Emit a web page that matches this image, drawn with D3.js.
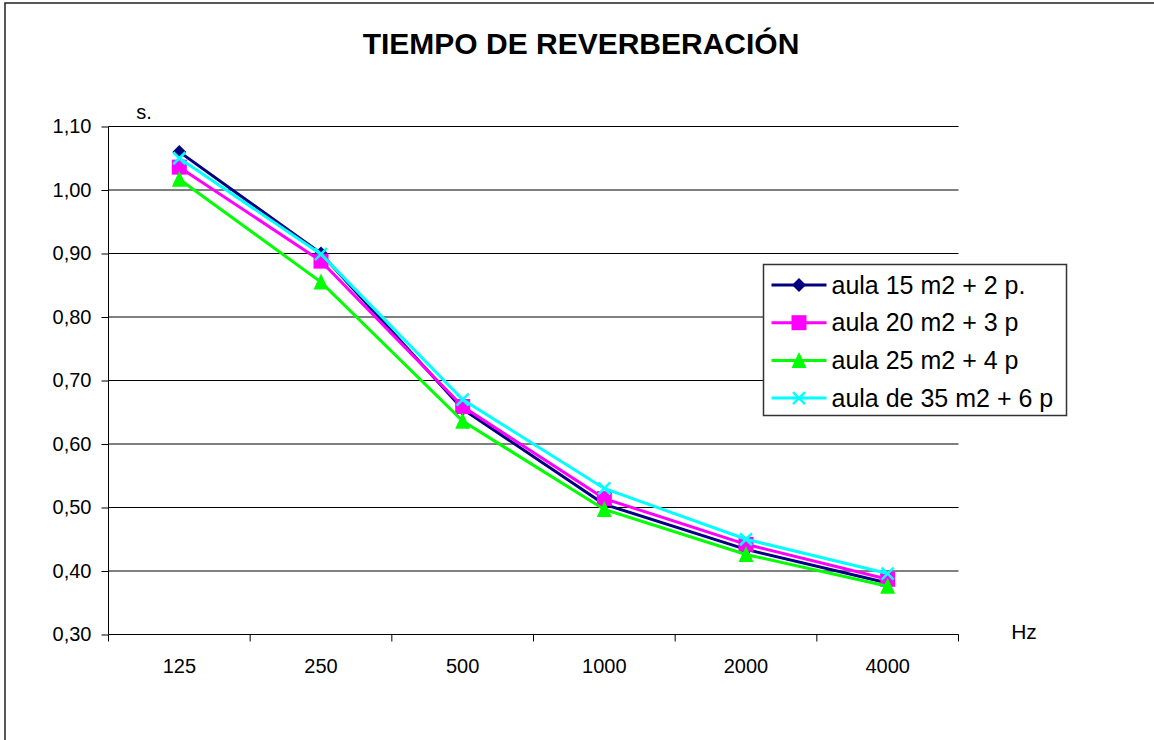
<!DOCTYPE html>
<html>
<head>
<meta charset="utf-8">
<script src="https://cdn.jsdelivr.net/npm/d3@7"></script>
<style>
  body { margin: 0; background: #fff; }
  text { font-family: "Liberation Sans", Arial, sans-serif; fill: #000; }
</style>
</head>
<body>
<div id="chart"></div>
<script>
var svgWidth = 1154;
var svgHeight = 740;

// chart data
var frequencies = ["125", "250", "500", "1000", "2000", "4000"];
var seriesNames = ["aula 15 m2 + 2 p.", "aula 20 m2 + 3 p", "aula 25 m2 + 4 p", "aula de 35 m2 + 6 p"];
var aula15 = [1.06, 0.90, 0.655, 0.505, 0.434, 0.381];
var aula20 = [1.036, 0.888, 0.659, 0.514, 0.442, 0.387];
var aula25 = [1.017, 0.855, 0.636, 0.497, 0.426, 0.376];
var aula35 = [1.05, 0.899, 0.670, 0.530, 0.450, 0.396];
var yTicks = [0.30, 0.40, 0.50, 0.60, 0.70, 0.80, 0.90, 1.00, 1.10];

var colors = ["#000080", "#ff00ff", "#00ff00", "#00ffff"];
var shapes = ["diamond", "square", "triangle", "cross"];
var allSeries = [aula15, aula20, aula25, aula35];

var margin = { top: 126.5, left: 108.5 };
var width = 850;
var height = 508;

var svg = d3.select("#chart")
  .append("svg")
  .attr("width", svgWidth)
  .attr("height", svgHeight);

// outer frame (runs off the picture at right and bottom)
svg.append("rect")
  .attr("x", 5)
  .attr("y", 3)
  .attr("width", 1160)
  .attr("height", 760)
  .attr("fill", "#fff")
  .attr("stroke", "#222")
  .attr("stroke-width", 1.5);

svg.append("text")
  .attr("x", 581)
  .attr("y", 54)
  .attr("text-anchor", "middle")
  .style("font-size", "30px")
  .style("font-weight", "bold")
  .text("TIEMPO DE REVERBERACIÓN");

var chartGroup = svg.append("g")
  .attr("transform", `translate(${margin.left}, ${margin.top})`);

var xScale = d3.scaleBand()
  .domain(frequencies)
  .range([0, width])
  .padding(0);

var yScale = d3.scaleLinear()
  .domain([0.3, 1.1])
  .range([height, 0]);

// y axis ticks and labels
var leftAxis = d3.axisLeft(yScale)
  .tickValues(yTicks)
  .tickSize(7)
  .tickFormat(d => d3.format(".2f")(d).replace(".", ","));

var yAxis = chartGroup.append("g").call(leftAxis);
yAxis.select(".domain").remove();
yAxis.selectAll(".tick line").attr("stroke", "#000");
yAxis.selectAll(".tick text")
  .attr("x", -17)
  .style("font-size", "20px")
  .attr("font-family", null);

// gridlines
chartGroup.append("g")
  .selectAll("line")
  .data(yTicks)
  .enter()
  .append("line")
  .attr("x1", 0)
  .attr("x2", width)
  .attr("y1", d => yScale(d))
  .attr("y2", d => yScale(d))
  .attr("stroke", "#000")
  .attr("stroke-width", 1);

// y axis line
chartGroup.append("line")
  .attr("x1", 0).attr("x2", 0)
  .attr("y1", 0).attr("y2", height)
  .attr("stroke", "#000");

// x axis: ticks at category boundaries
var bounds = frequencies.map(f => xScale(f)).concat([width]);
chartGroup.append("g")
  .selectAll("line")
  .data(bounds)
  .enter()
  .append("line")
  .attr("x1", d => d).attr("x2", d => d)
  .attr("y1", height).attr("y2", height + 7)
  .attr("stroke", "#000");

chartGroup.append("g")
  .selectAll("text")
  .data(frequencies)
  .enter()
  .append("text")
  .attr("x", d => xScale(d) + xScale.bandwidth() / 2)
  .attr("y", height + 38)
  .attr("text-anchor", "middle")
  .style("font-size", "20px")
  .text(d => d);

// unit labels
svg.append("text")
  .attr("x", 144).attr("y", 119)
  .attr("text-anchor", "middle")
  .style("font-size", "20px")
  .text("s.");

svg.append("text")
  .attr("x", 1024).attr("y", 639)
  .attr("text-anchor", "middle")
  .style("font-size", "21px")
  .text("Hz");

// marker drawing
function drawMarker(g, shape, color) {
  if (shape === "diamond") {
    g.append("path").attr("d", "M0,-7L7,0L0,7L-7,0Z").attr("fill", color);
  } else if (shape === "square") {
    g.append("rect").attr("x", -7.5).attr("y", -7.5).attr("width", 15).attr("height", 15).attr("fill", color);
  } else if (shape === "triangle") {
    g.append("path").attr("d", "M0,-8.5L7.5,7.5L-7.5,7.5Z").attr("fill", color);
  } else {
    g.append("path").attr("d", "M-6,-6L6,6M-6,6L6,-6")
      .attr("stroke", color).attr("stroke-width", 2.5).attr("fill", "none");
  }
}

var line = d3.line()
  .x((d, i) => xScale(frequencies[i]) + xScale.bandwidth() / 2)
  .y(d => yScale(d));

allSeries.forEach(function(values, s) {
  var g = chartGroup.append("g");
  g.append("path")
    .datum(values)
    .attr("d", line)
    .attr("fill", "none")
    .attr("stroke", colors[s])
    .attr("stroke-width", 3);
  values.forEach(function(v, i) {
    var m = g.append("g")
      .attr("transform", `translate(${xScale(frequencies[i]) + xScale.bandwidth() / 2}, ${yScale(v)})`);
    drawMarker(m, shapes[s], colors[s]);
  });
});

// legend
var legend = svg.append("g").attr("transform", "translate(763.5, 264.5)");
legend.append("rect")
  .attr("width", 303)
  .attr("height", 151)
  .attr("fill", "#fff")
  .attr("stroke", "#333")
  .attr("stroke-width", 1.5);

seriesNames.forEach(function(name, s) {
  var row = legend.append("g").attr("transform", `translate(0, ${20.5 + s * 37.7})`);
  row.append("line")
    .attr("x1", 8).attr("x2", 63)
    .attr("stroke", colors[s])
    .attr("stroke-width", 3);
  drawMarker(row.append("g").attr("transform", "translate(35.5, 0)"), shapes[s], colors[s]);
  row.append("text")
    .attr("x", 68)
    .attr("y", 8.5)
    .style("font-size", "25px")
    .text(name);
});
</script>
</body>
</html>
